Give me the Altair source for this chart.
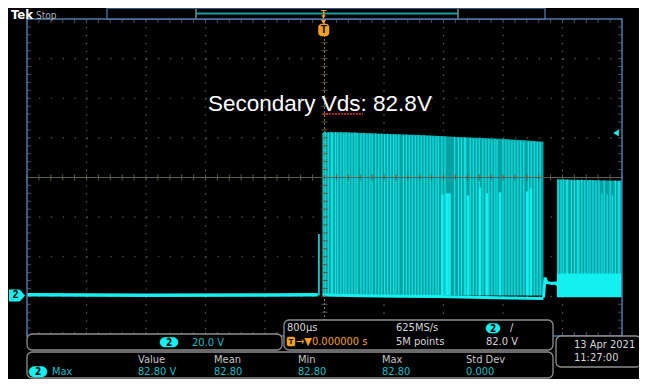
import altair as alt
import pandas as pd

# Channel 2 : 20 V/div, timebase 800 us/div, trigger at t = 0
V_DIV = 20.0
T_DIV = 800.0
Y_MIN = -20.5                      # ground sits ~1 div above the bottom edge
Y_MAX = Y_MIN + 8 * V_DIV
T_MIN, T_MAX = -5 * T_DIV, 5 * T_DIV
TRIG_LEVEL = 82.0

ground_t = [-4000, -2400, -800, -90]
ground_v = [0.3, 0.1, 0.2, 0.3]

pre_t = [-75]
pre_v = [31.0]

burst1_env_t = [-20, 300, 800, 1300, 1800, 2300, 2700, 2945]
burst1_env_v = [82.4, 82.3, 81.6, 80.9, 80.0, 79.2, 78.3, 77.6]

burst1_floor_t = [-25, 500, 1000, 1500, 2000, 2500, 2945]
burst1_floor_v = [0.2, -0.2, -0.4, -0.6, -0.9, -1.3, -1.6]

burst1_line_t = [-20, 10, 50, 90, 110, 150, 180, 220, 260, 290,
                 330, 370, 410, 440, 490, 530, 570, 610, 640, 690,
                 730, 770, 810, 850, 890, 930, 960, 1000, 1060, 1100,
                 1140, 1180, 1220, 1260, 1300, 1340, 1380, 1420, 1460, 1500,
                 1530, 1580, 1620, 1750, 1800, 1840, 1880, 1900, 1960, 2000,
                 2040, 2080, 2130, 2170, 2210, 2250, 2290, 2320, 2400, 2440,
                 2480, 2520, 2560, 2600, 2640, 2680, 2740, 2780, 2820, 2860,
                 2900]
burst1_line_v = [82.0, 82.6, 82.3, 82.7, 82.1, 82.5, 82.2, 82.4, 82.0, 82.3,
                 82.1, 81.8, 82.2, 81.9, 81.7, 82.0, 81.6, 81.8, 81.5, 81.7,
                 81.4, 81.6, 81.2, 81.5, 81.1, 81.3, 81.0, 81.2, 80.9, 81.1,
                 80.8, 81.0, 80.6, 80.9, 80.5, 80.7, 80.4, 80.6, 80.3, 80.5,
                 80.2, 80.4, 80.1, 79.8, 79.9, 79.6, 79.8, 79.5, 79.6, 79.3,
                 79.4, 79.1, 79.2, 78.9, 79.0, 78.7, 78.8, 78.5, 78.6, 78.3,
                 78.4, 78.1, 78.2, 77.9, 78.0, 77.7, 77.8, 77.5, 77.6, 77.3,
                 77.4]

short_t = [1585, 1645, 1680, 1930, 2090, 2185, 2360, 2725, 2775]
short_v = [51.0, 51.5, 51.5, 50.5, 54.5, 51.5, 52.0, 52.5, 54.0]

plateau_t = [2945, 2965, 2990, 3060, 3110, 3135]
plateau_v = [-1.0, 9.0, 6.5, 6.0, 6.3, 5.0]

burst2_env_t = [3125, 3500, 4000]
burst2_env_v = [58.6, 58.3, 57.8]

burst2_line_t = [3140, 3180, 3210, 3250, 3270, 3320, 3360, 3400, 3420, 3460,
                 3500, 3540, 3570, 3610, 3650, 3690, 3730, 3760, 3800, 3840,
                 3870, 3910, 3950, 3970]
burst2_line_v = [58.6, 58.4, 58.7, 58.3, 58.5, 58.2, 58.6, 58.4, 58.1, 58.5,
                 58.3, 58.0, 58.4, 58.2, 57.9, 58.3, 51.5, 58.1, 51.0, 57.8,
                 50.5, 58.0, 57.7, 57.9]

band2_t = [3125, 4000]
band2_top = [11.0, 11.0]
band2_bot = [-1.0, -1.0]

# ---------------- layout / style ----------------
W, H = 595, 317
LEFT, TOP = 27, 19      # page position of the graticule
CYAN = "#14f0f0"
TEAL = "#07a1a4"
ORANGE = "#f2a028"
GRID = "#5a5a5a"
BLUE = "#4a78aa"
PANEL = "#8e8e8e"
LIGHT = "#d6d6d6"
MTEAL = "#1cbcc0"
COND = "Liberation Sans Narrow, DejaVu Sans Condensed, Roboto Condensed, Arial Narrow, sans-serif"
SANS = "Liberation Sans, Arial, sans-serif"

xs = alt.Scale(domain=[T_MIN, T_MAX], nice=False, zero=False)
ys = alt.Scale(domain=[Y_MIN, Y_MAX], nice=False, zero=False)


def X(f):
    return alt.X(f, type="quantitative", scale=xs, axis=None)


def Y(f):
    return alt.Y(f, type="quantitative", scale=ys, axis=None)


def px(x):
    return x - LEFT


def py(y):
    return y - TOP


ONE = pd.DataFrame({"a": [0]})


def box(x1, y1, x2, y2, stroke=PANEL, fill="#000000", r=5, sw=1.3):
    return alt.Chart(ONE).mark_rect(stroke=stroke, fill=fill, cornerRadius=r,
                                    strokeWidth=sw).encode(
        x=alt.value(px(x1)), x2=alt.value(px(x2)),
        y=alt.value(py(y1)), y2=alt.value(py(y2)))


def seg(x1, y1, x2, y2, color, sw=1.0, dash=None):
    kw = dict(color=color, strokeWidth=sw)
    if dash:
        kw["strokeDash"] = dash
    return alt.Chart(ONE).mark_rule(**kw).encode(
        x=alt.value(px(x1)), x2=alt.value(px(x2)),
        y=alt.value(py(y1)), y2=alt.value(py(y2)))


def txt(s, x, y, color=LIGHT, size=11, weight="normal", align="left", font=COND,
        baseline="middle"):
    return alt.Chart(pd.DataFrame({"s": [s]})).mark_text(
        align=align, baseline=baseline, color=color, fontSize=size,
        fontWeight=weight, font=font).encode(
        x=alt.value(px(x)), y=alt.value(py(y)), text="s:N")


def pill(x1, y1, x2, y2, label="2", size=10):
    return [box(x1, y1, x2, y2, stroke=CYAN, fill=CYAN, r=(y2 - y1) / 2, sw=0.5),
            txt(label, (x1 + x2) / 2, (y1 + y2) / 2 + 0.5, color="#000000",
                size=size, weight="bold", align="center")]


layers = []

# ---- graticule: dotted grid, border ticks ----
grid_t = [T_MIN + T_DIV * k for k in range(1, 10) if k != 5]
grid_v = [Y_MIN + V_DIV * k for k in range(1, 8) if k != 4]
minor_t = [T_MIN + T_DIV / 5 * k for k in range(51)]
minor_v = [Y_MIN + V_DIV / 5 * k for k in range(41)]
gt = pd.DataFrame({"t": grid_t})
gv = pd.DataFrame({"v": grid_v})
mt = pd.DataFrame({"t": minor_t})
mv = pd.DataFrame({"v": minor_v})

layers.append(alt.Chart(gt).mark_rule(color=GRID, strokeWidth=1.2, strokeDash=[1.4, 6.525])
              .encode(x=X("t"), y=alt.value(0), y2=alt.value(H)))
layers.append(alt.Chart(gv).mark_rule(color=GRID, strokeWidth=1.2, strokeDash=[1.4, 10.5])
              .encode(y=Y("v"), x=alt.value(0), x2=alt.value(W)))
tick = dict(color="#4e4e4e", strokeWidth=1)
layers.append(alt.Chart(mt).mark_rule(**tick).encode(x=X("t"), y=alt.value(0), y2=alt.value(4)))
layers.append(alt.Chart(mt).mark_rule(**tick).encode(x=X("t"), y=alt.value(H - 4), y2=alt.value(H)))
layers.append(alt.Chart(mv).mark_rule(**tick).encode(y=Y("v"), x=alt.value(0), x2=alt.value(4)))
layers.append(alt.Chart(mv).mark_rule(**tick).encode(y=Y("v"), x=alt.value(W - 4), x2=alt.value(W)))

# ---- waveform ----
env1 = pd.DataFrame({"t": burst1_env_t, "v": burst1_env_v, "b": 0.0})
env2 = pd.DataFrame({"t": burst2_env_t, "v": burst2_env_v, "b": 0.0})
layers.append(alt.Chart(env1).mark_area(color=TEAL, opacity=1)
              .encode(x=X("t"), y=Y("v"), y2=alt.Y2("b")))
layers.append(alt.Chart(env2).mark_area(color=TEAL, opacity=1)
              .encode(x=X("t"), y=Y("v"), y2=alt.Y2("b")))
lines1 = pd.DataFrame({"t": burst1_line_t, "v": burst1_line_v, "b": 0.0})
lines2 = pd.DataFrame({"t": burst2_line_t, "v": burst2_line_v, "b": 0.0})
layers.append(alt.Chart(lines1).mark_rule(color=CYAN, strokeWidth=1)
              .encode(x=X("t"), y=Y("v"), y2=alt.Y2("b")))
layers.append(alt.Chart(lines2).mark_rule(color=CYAN, strokeWidth=1)
              .encode(x=X("t"), y=Y("v"), y2=alt.Y2("b")))
shorts = pd.DataFrame({"t": short_t, "v": short_v, "b": 0.0})
layers.append(alt.Chart(shorts).mark_rule(color=CYAN, strokeWidth=2.5)
              .encode(x=X("t"), y=Y("v"), y2=alt.Y2("b")))
pre = pd.DataFrame({"t": pre_t, "v": pre_v, "b": 0.0})
layers.append(alt.Chart(pre).mark_rule(color=CYAN, strokeWidth=1.5)
              .encode(x=X("t"), y=Y("v"), y2=alt.Y2("b")))
band = pd.DataFrame({"t": band2_t, "top": band2_top, "bot": band2_bot})
layers.append(alt.Chart(band).mark_area(color=CYAN, opacity=1)
              .encode(x=X("t"), y=Y("top"), y2=alt.Y2("bot")))
layers.append(alt.Chart(pd.DataFrame({"t": burst1_floor_t, "v": burst1_floor_v}))
              .mark_line(color=CYAN, strokeWidth=3).encode(x=X("t"), y=Y("v")))
layers.append(alt.Chart(pd.DataFrame({"t": plateau_t, "v": plateau_v}))
              .mark_line(color=CYAN, strokeWidth=3).encode(x=X("t"), y=Y("v")))
layers.append(alt.Chart(pd.DataFrame({"t": ground_t, "v": ground_v}))
              .mark_line(color=CYAN, strokeWidth=3.5).encode(x=X("t"), y=Y("v")))

# ---- centre lines (drawn above the trace, like the scope) ----
layers.append(alt.Chart(pd.DataFrame({"v": [Y_MIN + 4 * V_DIV]}))
              .mark_rule(color="#635e48", strokeWidth=1)
              .encode(y=Y("v"), x=alt.value(0), x2=alt.value(W)))
layers.append(alt.Chart(pd.DataFrame({"t": [0.0]}))
              .mark_rule(color="#8a7c52", strokeWidth=1, strokeDash=[2, 2])
              .encode(x=X("t"), y=alt.value(0), y2=alt.value(H)))
ctick = dict(color="#5e5a48", strokeWidth=1)
layers.append(alt.Chart(mt).mark_rule(**ctick)
              .encode(x=X("t"), y=alt.value(H / 2 - 3), y2=alt.value(H / 2 + 3)))
layers.append(alt.Chart(mv).mark_rule(**ctick)
              .encode(y=Y("v"), x=alt.value(W / 2 - 3), x2=alt.value(W / 2 + 3)))

# ---- border ----
layers.append(alt.Chart(ONE).mark_rect(fillOpacity=0, stroke=BLUE, strokeWidth=1.5)
              .encode(x=alt.value(0), x2=alt.value(W), y=alt.value(0), y2=alt.value(H)))

# ---- trigger level arrow, channel marker, trigger marker ----
layers.append(alt.Chart(pd.DataFrame({"v": [TRIG_LEVEL]}))
              .mark_point(shape="triangle-left", filled=True, size=45, color=CYAN, opacity=1)
              .encode(x=alt.value(px(616)), y=Y("v")))
gnd = pd.DataFrame({"v": [0.0], "s": ["2"]})
layers.append(alt.Chart(gnd).mark_point(
    shape="M-1,-0.75 L0.35,-0.75 L1,0 L0.35,0.75 L-1,0.75 Z",
    filled=True, size=256, color=CYAN, opacity=1)
    .encode(x=alt.value(px(17)), y=Y("v")))
layers.append(alt.Chart(gnd).mark_text(
    align="center", baseline="middle", color="#000000", fontSize=10,
    fontWeight="bold", font=SANS).encode(x=alt.value(px(15.5)), y=Y("v"), text="s:N"))

layers.append(alt.Chart(ONE).mark_point(shape="triangle-down", filled=True, size=40,
                                         color=ORANGE, opacity=1)
              .encode(x=alt.value(px(323.5)), y=alt.value(py(21.5))))
layers.append(box(318.5, 24, 329, 36, stroke=ORANGE, fill=ORANGE, r=3, sw=0.5))
layers.append(txt("T", 323.8, 30, color="#000000", size=10, weight="bold",
                  align="center", font=SANS))

# ---- annotation ----
layers.append(txt("Secondary Vds: 82.8V", 208, 110.5, color="#ffffff", size=22.5,
                  font=SANS, baseline="alphabetic"))
layers.append(seg(323, 114, 363, 114, "#e03030", sw=1.3, dash=[2, 1]))

# ---- top status bar ----
layers.append(txt("Tek", 11, 19, color="#ffffff", size=13, weight="bold",
                  baseline="alphabetic"))
layers.append(txt("Stop", 36, 18.5, color="#b4b4b4", size=10, baseline="alphabetic"))
layers.append(box(107, 8, 545, 19, stroke=BLUE, fill="#000000", r=0, sw=1.3))
layers.append(seg(196, 9, 196, 18.5, "#8a8a8a", sw=1.5))
layers.append(seg(458, 9, 458, 18.5, "#8a8a8a", sw=1.5))
layers.append(seg(196, 13.5, 458, 13.5, "#1a9ca2", sw=2))
layers.append(txt("T", 323.5, 12.5, color=ORANGE, size=9, weight="bold", align="center",
                  font=SANS))
layers.append(alt.Chart(ONE).mark_point(shape="triangle-down", filled=True, size=18,
                                         color=ORANGE, opacity=1)
              .encode(x=alt.value(px(323.5)), y=alt.value(py(17))))

# ---- bottom panels ----
layers.append(box(27, 334, 282, 350))
layers += pill(160, 337.5, 178, 347)
layers.append(txt("20.0 V", 192, 342.5, color=MTEAL))

layers.append(box(284, 320, 553, 350))
layers.append(txt("800µs", 287, 328))
layers.append(txt("625MS/s", 396, 328))
layers += pill(486, 323.5, 500, 333)
layers.append(txt("/", 510, 328, color=LIGHT))
layers.append(box(287, 337, 295, 346, stroke=ORANGE, fill=ORANGE, r=1.5, sw=0.5))
layers.append(txt("T", 291, 341.5, color="#000000", size=8, weight="bold",
                  align="center", font=SANS))
layers.append(txt("→▼0.000000 s", 296, 341.5, color=ORANGE))
layers.append(txt("5M points", 396, 341.5))
layers.append(txt("82.0 V", 486, 341.5))

layers.append(box(27, 352, 553, 378))
for lab, xx in zip(["Value", "Mean", "Min", "Max", "Std Dev"], [138, 214, 298, 382, 466]):
    layers.append(txt(lab, xx, 360, color="#c6c6c6"))
for val, xx in zip(["82.80 V", "82.80", "82.80", "82.80", "0.000"], [138, 214, 298, 382, 466]):
    layers.append(txt(val, xx, 372, color=MTEAL))
layers += pill(29, 366.5, 47, 377)
layers.append(txt("Max", 52, 372, color=MTEAL))

layers.append(box(556, 336, 641, 367))
layers.append(txt("13 Apr  2021", 574, 345))
layers.append(txt("11:27:00", 574, 358))

chart = alt.layer(*layers).properties(
    width=W, height=H,
    autosize=alt.AutoSizeParams(type="none"),
    padding={"left": 19, "top": 11, "right": 17, "bottom": 43},
    background="#000000",
).configure_view(strokeWidth=0)

chart.save("out.html", embed_options={"renderer": "svg", "actions": False})
